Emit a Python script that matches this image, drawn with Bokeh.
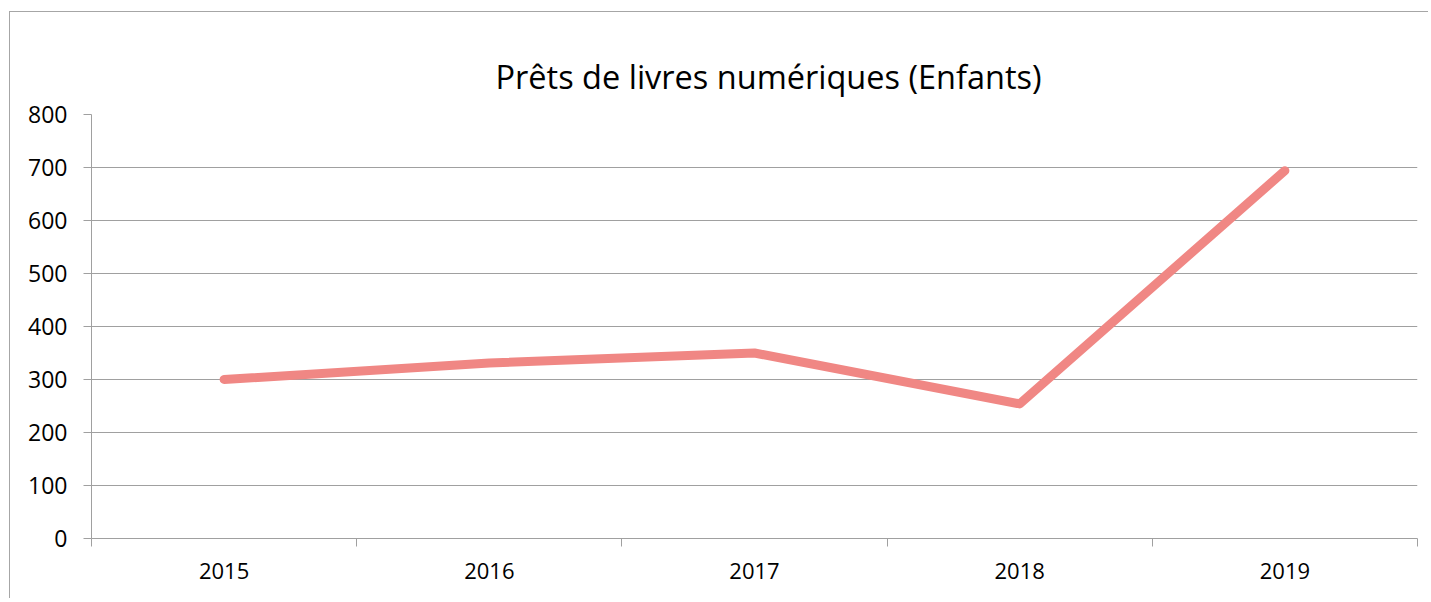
from bokeh.plotting import figure
from bokeh.models import FixedTicker, Range1d, Title
from bokeh.embed import file_html
from bokeh.resources import INLINE

years = ["2015", "2016", "2017", "2018", "2019"]
loans = [300, 331, 350, 254, 694]
y_ticks = [0, 100, 200, 300, 400, 500, 600, 700, 800]

FONT = "Open Sans"
GRID = "#A0A0A0"
LINE = "#F08784"

xs = [i + 0.5 for i in range(len(years))]

p = figure(width=1419, height=587, output_backend="svg", toolbar_location=None,
           x_range=Range1d(0, len(years)), y_range=Range1d(0, 800),
           min_border_left=81, min_border_right=12, min_border_top=102,
           min_border_bottom=61)
p.styles = {"border-left": "1px solid #A6A6A6", "border-top": "1px solid #A6A6A6",
            "border-right": "none", "border-bottom": "none", "overflow": "hidden",
            "margin-top": "11px", "margin-left": "9px"}
p.outline_line_color = None
p.background_fill_color = "white"
p.border_fill_color = "white"

p.title = Title(text="Prêts de livres numériques (Enfants)", align="left",
                text_font=FONT, text_font_size="32.5px", text_font_style="normal",
                text_color="#000000", offset=404, standoff=32)

p.line(xs, loans, line_color=LINE, line_width=9, line_cap="round", line_join="round")

# y axis
p.yaxis.ticker = FixedTicker(ticks=y_ticks)
p.yaxis.axis_line_color = GRID
p.yaxis.major_tick_line_color = GRID
p.yaxis.major_tick_in = 0
p.yaxis.major_tick_out = 8
p.yaxis.minor_tick_line_color = None
p.yaxis.major_label_text_font = FONT
p.yaxis.major_label_text_font_size = "23px"
p.yaxis.major_label_text_color = "#000000"
p.yaxis.major_label_standoff = 16

# x axis: labels at centres, ticks at category boundaries
p.xaxis.ticker = FixedTicker(ticks=xs, minor_ticks=list(range(len(years) + 1)))
p.xaxis.major_label_overrides = {x: y for x, y in zip(xs, years)}
p.xaxis.axis_line_color = GRID
p.xaxis.major_tick_line_color = None
p.xaxis.major_tick_in = 0
p.xaxis.major_tick_out = 0
p.xaxis.minor_tick_line_color = GRID
p.xaxis.minor_tick_in = 0
p.xaxis.minor_tick_out = 8
p.xaxis.major_label_text_font = FONT
p.xaxis.major_label_text_font_size = "22px"
p.xaxis.major_label_text_color = "#000000"
p.xaxis.major_label_standoff = 16

p.xgrid.grid_line_color = None
p.ygrid.ticker = FixedTicker(ticks=y_ticks)
p.ygrid.grid_line_color = GRID
p.ygrid.grid_line_width = 1

open("out.html", "w").write(file_html(p, INLINE))
